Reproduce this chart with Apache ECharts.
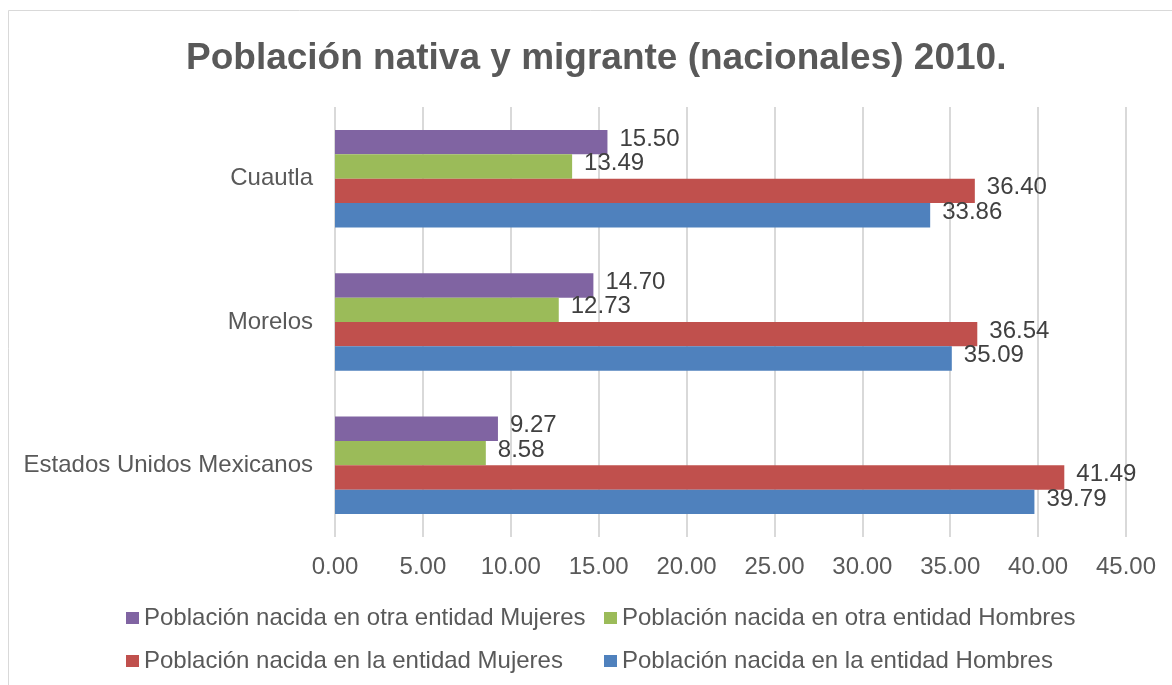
<!DOCTYPE html>
<html>
<head>
<meta charset="utf-8">
<script src="https://cdn.jsdelivr.net/npm/echarts@6/dist/echarts.min.js"></script>
<style>
  html, body { margin: 0; padding: 0; background: #fff; }
  #chart { width: 1172px; height: 685px; }
</style>
</head>
<body>
<div id="chart"></div>
<script>
// categories bottom -> top
var categories = ['Estados Unidos Mexicanos', 'Morelos', 'Cuautla'];

var otraEntidadMujeres = [9.27, 14.70, 15.50];
var otraEntidadHombres = [8.58, 12.73, 13.49];
var nacidaEntidadMujeres = [41.49, 36.54, 36.40];
var nacidaEntidadHombres = [39.79, 35.09, 33.86];

var xTicks = [0, 45, 5];

var names = {
  eh: 'Población nacida en la entidad Hombres',
  em: 'Población nacida en la entidad Mujeres',
  oh: 'Población nacida en otra entidad Hombres',
  om: 'Población nacida en otra entidad Mujeres'
};

var font = '"Liberation Sans", Arial, sans-serif';

function barSeries(name, data, color) {
  return {
    name: name,
    type: 'bar',
    data: data,
    barGap: '0%',
    barCategoryGap: '32%',
    itemStyle: { color: color },
    label: {
      show: true,
      position: 'right',
      distance: 12,
      offset: [0, -3],
      color: '#404040',
      fontSize: 24,
      fontFamily: font,
      formatter: function (p) { return p.value.toFixed(2); }
    }
  };
}

function legendAt(name, left, top) {
  return {
    data: [name],
    left: left,
    top: top,
    itemWidth: 13,
    itemHeight: 12,
    itemGap: 0,
    icon: 'rect',
    textStyle: { fontSize: 24, color: '#595959', fontFamily: font }
  };
}

var chart = echarts.init(document.getElementById('chart'));
chart.setOption({
  animation: false,
  backgroundColor: '#fff',
  textStyle: { fontFamily: font },
  graphic: [{
    type: 'rect',
    shape: { x: 8.5, y: 10.5, width: 1200, height: 700 },
    style: { fill: 'none', stroke: '#d9d9d9', lineWidth: 1 },
    silent: true
  }],
  title: {
    text: 'Población nativa y migrante (nacionales) 2010.',
    left: 181,
    top: 35,
    textStyle: { fontSize: 37, fontWeight: 'bold', color: '#595959', fontFamily: font }
  },
  legend: [
    legendAt(names.om, 121, 601),
    legendAt(names.oh, 599, 601),
    legendAt(names.em, 121, 644),
    legendAt(names.eh, 599, 644)
  ],
  grid: { left: 335, right: 46, top: 107, bottom: 148, containLabel: false },
  xAxis: {
    type: 'value',
    min: xTicks[0],
    max: xTicks[1],
    interval: xTicks[2],
    axisLine: { show: false },
    axisTick: { show: false },
    splitLine: { lineStyle: { color: '#d9d9d9', width: 2 } },
    axisLabel: {
      margin: 18,
      fontSize: 24,
      color: '#595959',
      fontFamily: font,
      formatter: function (v) { return v.toFixed(2); }
    }
  },
  yAxis: {
    type: 'category',
    data: categories,
    axisLine: { show: false },
    axisTick: { show: false },
    axisLabel: { margin: 22, fontSize: 24, color: '#595959', fontFamily: font }
  },
  series: [
    barSeries(names.om, otraEntidadMujeres, '#8064a2'),
    barSeries(names.oh, otraEntidadHombres, '#9bbb59'),
    barSeries(names.em, nacidaEntidadMujeres, '#c0504d'),
    barSeries(names.eh, nacidaEntidadHombres, '#4f81bd')
  ]
});
</script>
</body>
</html>
